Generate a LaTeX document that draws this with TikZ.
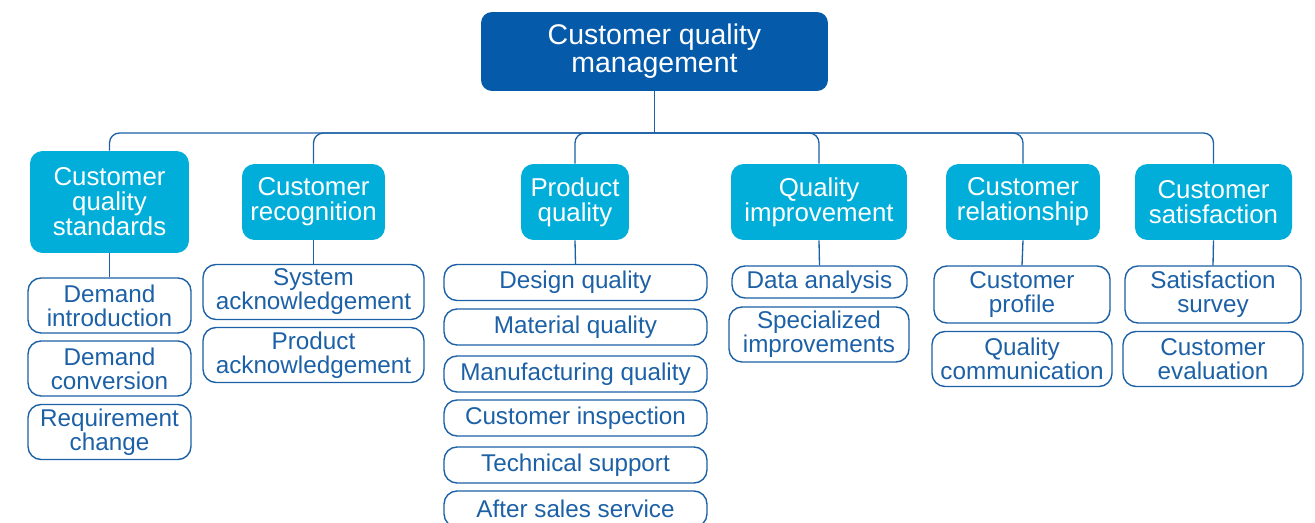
\documentclass[tikz,border=0pt]{standalone}
\usepackage{fontspec}
\setmainfont{Liberation Sans}
\usetikzlibrary{positioning}
\definecolor{topblue}{RGB}{5,90,170}
\definecolor{midcyan}{RGB}{0,174,217}
\definecolor{leafblue}{RGB}{28,96,166}

\begin{document}
\begin{tikzpicture}[x=0.02cm,y=-0.02cm,
	rootbox/.style={fill=topblue, text=white, rounded corners=0.22cm, align=center, inner sep=0pt,
		minimum width=6.94cm, minimum height=1.58cm, font=\fontsize{16.2}{16}\selectfont},
	headbox/.style={fill=midcyan, text=white, rounded corners=0.25cm, align=center, inner sep=0pt,
		minimum height=1.52cm, font=\fontsize{14.7}{14.2}\selectfont},
	leafbox/.style={draw=leafblue, line width=0.8pt, text=leafblue, rounded corners=0.26cm, align=center,
		inner sep=0pt, minimum height=1.1cm, font=\fontsize{13.8}{13.7}\selectfont},
	thin/.style={minimum height=0.72cm},
	link/.style={draw=leafblue, line width=0.75pt}]
\useasboundingbox (0,0) rectangle (1315,523);

\node[rootbox] (root) at (654.5,51.5) {Customer quality\\management};

\node[headbox, minimum width=3.18cm, minimum height=2.04cm] (std) at (109.5,202) {Customer\\quality\\standards};
\node[headbox, minimum width=2.86cm] (rec) at (313.5,202) {Customer\\recognition};
\node[headbox, minimum width=2.16cm] (prod) at (575,202) {Product\\quality};
\node[headbox, minimum width=3.52cm] (impr) at (819,202) {Quality\\improvement};
\node[headbox, minimum width=3.08cm] (rel) at (1023,202) {Customer\\relationship};
\node[headbox, minimum width=3.14cm] (sat) at (1213.5,202) {Customer\\satisfaction};

\node[leafbox, minimum width=3.26cm] (std-1) at (109.5,305.5) {Demand\\introduction};
\node[leafbox, minimum width=3.26cm] (std-2) at (109.5,368.5) {Demand\\conversion};
\node[leafbox, minimum width=3.26cm] (std-3) at (109.5,432) {Requirement\\change};

\node[leafbox, minimum width=4.42cm] (rec-1) at (313.5,292) {System\\acknowledgement};
\node[leafbox, minimum width=4.42cm] (rec-2) at (313.5,355) {Product\\acknowledgement};

\node[leafbox, thin, minimum width=5.26cm] (prod-1) at (575.5,282.5) {Design quality};
\node[leafbox, thin, minimum width=5.26cm] (prod-2) at (575.5,327) {Material quality};
\node[leafbox, thin, minimum width=5.26cm] (prod-3) at (575.5,374) {Manufacturing quality};
\node[leafbox, thin, minimum width=5.26cm] (prod-4) at (575.5,418) {Customer inspection};
\node[leafbox, thin, minimum width=5.26cm] (prod-5) at (575.5,465) {Technical support};
\node[leafbox, thin, minimum width=5.26cm] (prod-6) at (575.5,509) {After sales service};

\node[leafbox, minimum height=0.64cm, minimum width=3.5cm] (impr-1) at (819.5,282) {Data analysis};
\node[leafbox, minimum width=3.6cm] (impr-2) at (819,334.5) {Specialized\\improvements};

\node[leafbox, minimum width=3.52cm, minimum height=1.14cm] (rel-1) at (1022,294.5) {Customer\\profile};
\node[leafbox, minimum width=3.6cm] (rel-2) at (1022,359) {Quality\\communication};

\node[leafbox, minimum width=3.52cm, minimum height=1.14cm] (sat-1) at (1213,294.5) {Satisfaction\\survey};
\node[leafbox, minimum width=3.6cm] (sat-2) at (1213,359) {Customer\\evaluation};

\coordinate (bus) at (0,133);
\draw[link] (root.south) -- (root.south |- bus);
\draw[link, rounded corners=0.2cm] (std.north) |- (root.south |- bus) -| (sat.north);
\foreach \k in {rec,prod,impr,rel}
	\draw[link, rounded corners=0.2cm] (root.south |- bus) -| (\k.north);
\foreach \k in {std,rec,prod,impr,rel,sat}
	\draw[link] (\k.south) -- (\k-1.north);
\end{tikzpicture}
\end{document}
